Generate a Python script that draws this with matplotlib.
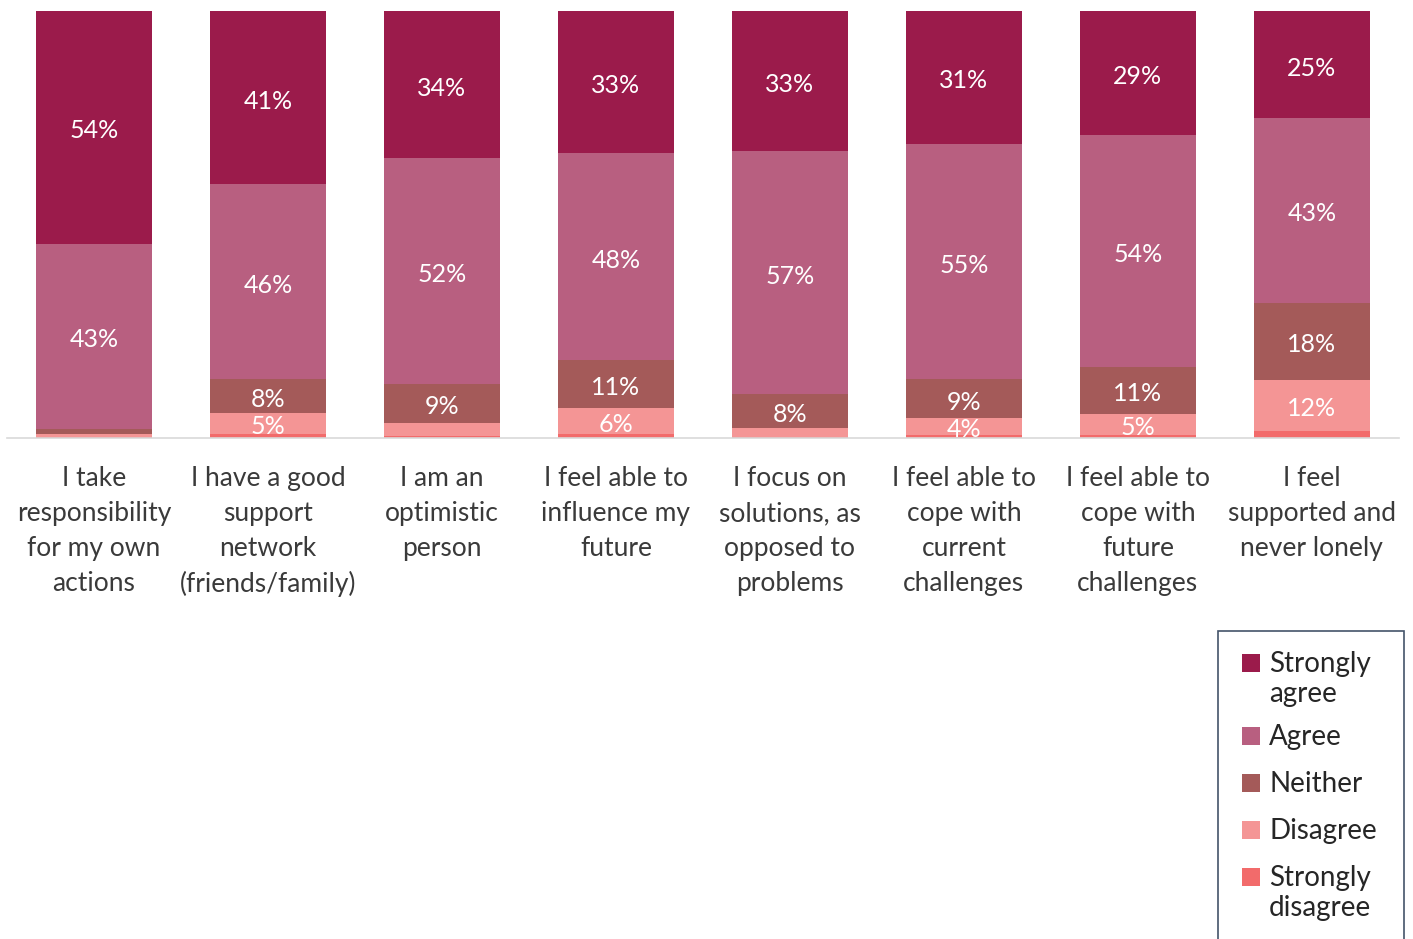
import matplotlib
matplotlib.use("Agg")
import matplotlib.pyplot as plt
import numpy as np
from matplotlib.patches import Rectangle

categories = ["I take\nresponsibility\nfor my own\nactions",
              "I have a good\nsupport\nnetwork\n(friends/family)",
              "I am an\noptimistic\nperson",
              "I feel able to\ninfluence my\nfuture",
              "I focus on\nsolutions, as\nopposed to\nproblems",
              "I feel able to\ncope with\ncurrent\nchallenges",
              "I feel able to\ncope with\nfuture\nchallenges",
              "I feel\nsupported and\nnever lonely"]
strongly_agree = [54.3, 41, 34, 33, 33, 31, 29, 25]
agree = [43.4, 46, 52, 48, 57, 55, 54, 43]
neither = [1.0, 8, 9, 11, 8, 9, 11, 18]
disagree = [0.7, 5, 3, 6, 2, 4, 5, 12]
strongly_disagree = [0.3, 1, 0.5, 1, 0.3, 0.7, 0.7, 1.6]

series = [("Strongly\nagree", strongly_agree, "#9B1B4B"),
          ("Agree", agree, "#B85F80"),
          ("Neither", neither, "#A45A59"),
          ("Disagree", disagree, "#F49595"),
          ("Strongly\ndisagree", strongly_disagree, "#F26B6B")]

plt.rcParams['font.family'] = ['Lato', 'DejaVu Sans']
W, H = 1413, 939
fig = plt.figure(figsize=(W / 100, H / 100), dpi=100)
ax = fig.add_axes([0.005, 0.5335, 0.985, 0.4548])

x = np.arange(len(categories))
totals = np.sum([np.array(s[1], float) for s in series], axis=0)
bottom = np.zeros(len(categories))
for name, vals, col in reversed(series):
    v = np.array(vals, float) / totals * 100
    ax.bar(x, v, bottom=bottom, width=0.667, color=col, edgecolor='none')
    for xi, vi, bi, raw in zip(x, v, bottom, vals):
        if raw >= 4:
            ax.annotate(f"{int(round(raw))}%", (xi, bi + vi / 2), xytext=(0, -2.5),
                        textcoords='offset points', ha='center', va='center',
                        color='white', fontsize=18)
    bottom += v

ax.set_xlim(-0.5, len(categories) - 0.5)
ax.set_ylim(0, 100)
ax.set_yticks([])
ax.set_xticks(x)
ax.set_xticklabels(categories, fontsize=19, color='#3a3a3a', linespacing=1.5)
ax.tick_params(axis='x', length=0, pad=20)
for s in ['top', 'right', 'left']:
    ax.spines[s].set_visible(False)
ax.spines['bottom'].set_color('#d9d9d9')
ax.spines['bottom'].set_linewidth(1.2)

# legend drawn manually (pixel coords converted to figure fraction)
def fx(px):
    return px / W

def fy(py):
    return 1 - py / H

fig.patches.append(Rectangle((fx(1218), fy(945)), fx(1404) - fx(1218), fy(631) - fy(945),
                             transform=fig.transFigure, facecolor='white',
                             edgecolor='#44546A', linewidth=1.2, clip_on=False))
leg_rows = [(663, "Strongly\nagree", "#9B1B4B"),
            (736, "Agree", "#B85F80"),
            (783, "Neither", "#A45A59"),
            (830, "Disagree", "#F49595"),
            (877, "Strongly\ndisagree", "#F26B6B")]
for ypx, label, col in leg_rows:
    fig.patches.append(Rectangle((fx(1242), fy(ypx + 9)), fx(18), 18 / H,
                                 transform=fig.transFigure, facecolor=col,
                                 edgecolor='none'))
    fig.text(fx(1269), fy(ypx - 12), label, ha='left', va='top', fontsize=20,
             color='#262626', linespacing=1.2)

fig.savefig("out.png", dpi=100)
